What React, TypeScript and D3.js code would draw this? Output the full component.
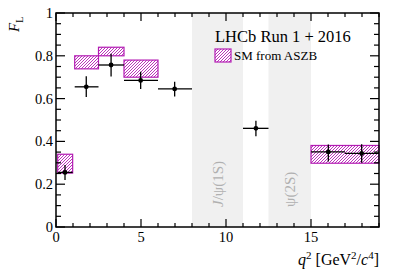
import { useEffect, useRef } from "react";
import * as d3 from "d3";

// measured bins (q2 in GeV^2/c^4)
const binLo = [0.1, 1.1, 2.5, 4, 6, 11, 15, 17];
const binHi = [0.98, 2.5, 4, 6, 8, 12.5, 17, 19];
const qMean = [0.53, 1.78, 3.24, 4.98, 6.98, 11.76, 16.02, 17.98];
const flVal = [0.255, 0.655, 0.757, 0.685, 0.645, 0.461, 0.351, 0.344];
const flErrUp = [0.035, 0.05, 0.053, 0.04, 0.034, 0.036, 0.035, 0.043];
const flErrDn = [0.035, 0.048, 0.054, 0.04, 0.035, 0.037, 0.045, 0.044];

// SM prediction boxes (ASZB)
const smLo = [0.1, 1.1, 2.5, 4, 15];
const smHi = [0.98, 2.5, 4, 6, 19];
const smMin = [0.252, 0.739, 0.8, 0.7, 0.298];
const smMax = [0.34, 0.8, 0.84, 0.78, 0.381];

// charmonium vetoes
const vetoLo = [8, 12.5];
const vetoHi = [11, 15];
const vetoLabel = [["J", "/\u03c8(1S)"], ["", "\u03c8(2S)"]];

const xTicks = [0, 5, 10, 15];
const yTicks = [0, 0.2, 0.4, 0.6, 0.8, 1];

export default function App() {
  const ref = useRef<SVGSVGElement>(null);

  useEffect(() => {
    document.body.style.margin = "0";
    const el = ref.current;
    if (!el) return;
    const W = 399, H = 271;
    const M = { top: 13, right: 20, bottom: 44, left: 56 };
    const font = "'Liberation Serif', 'Times New Roman', serif";
    const mag = "#b31cb3";

    d3.select(el).selectAll("*").remove();
    const svg = d3.select(el).attr("width", W).attr("height", H).style("display", "block");

    const x = d3.scaleLinear().domain([0, 19]).range([M.left, W - M.right]);
    const y = d3.scaleLinear().domain([0, 1]).range([H - M.bottom, M.top]);

    // "////" hatch
    const s = 3;
    const pat = svg.append("defs").append("pattern")
      .attr("id", "hatch").attr("patternUnits", "userSpaceOnUse")
      .attr("width", s).attr("height", s);
    pat.append("rect").attr("width", s).attr("height", s).attr("fill", "#fff");
    pat.append("path")
      .attr("d", `M-1,1 L1,-1 M0,${s} L${s},0 M${s - 1},${s + 1} L${s + 1},${s - 1}`)
      .attr("stroke", mag).attr("stroke-width", 0.9);

    // veto bands
    svg.selectAll(".veto").data(vetoLo).join("rect")
      .attr("x", (d) => x(d)).attr("width", (d, i) => x(vetoHi[i]) - x(d))
      .attr("y", y(1)).attr("height", y(0) - y(1))
      .attr("fill", "#f0f0f0");
    vetoLabel.forEach((lb, i) => {
      const t = svg.append("text")
        .attr("transform", `translate(${x((vetoLo[i] + vetoHi[i]) / 2) + 5},207) rotate(-90)`)
        .attr("fill", "#b0b0b0").style("font-family", font).style("font-size", "15px");
      if (lb[0]) t.append("tspan").style("font-style", "italic").text(lb[0]);
      t.append("tspan").text(lb[1]);
    });

    // SM boxes
    svg.selectAll(".sm").data(smLo).join("rect")
      .attr("x", (d) => x(d)).attr("width", (d, i) => x(smHi[i]) - x(d))
      .attr("y", (d, i) => y(smMax[i])).attr("height", (d, i) => y(smMin[i]) - y(smMax[i]))
      .attr("fill", "url(#hatch)").attr("stroke", mag).attr("stroke-width", 1.2);

    // data points
    const g = svg.append("g").attr("stroke", "#000").attr("stroke-width", 1.3);
    flVal.forEach((v, i) => {
      g.append("line").attr("x1", x(binLo[i])).attr("x2", x(binHi[i]))
        .attr("y1", y(v)).attr("y2", y(v));
      g.append("line").attr("x1", x(qMean[i])).attr("x2", x(qMean[i]))
        .attr("y1", y(v + flErrUp[i])).attr("y2", y(v - flErrDn[i]));
      g.append("circle").attr("cx", x(qMean[i])).attr("cy", y(v)).attr("r", 2.4)
        .attr("fill", "#000").attr("stroke", "none");
    });

    // frame
    svg.append("rect").attr("x", x(0)).attr("y", y(1))
      .attr("width", x(19) - x(0)).attr("height", y(0) - y(1))
      .attr("fill", "none").attr("stroke", "#000").attr("stroke-width", 1.5);

    const ax = svg.append("g").attr("stroke", "#000").attr("stroke-width", 1.2);
    d3.range(0, 20, 1).forEach((t) => {
      const len = t % 5 === 0 ? 8 : 4;
      ax.append("line").attr("x1", x(t)).attr("x2", x(t)).attr("y1", y(0)).attr("y2", y(0) - len);
      ax.append("line").attr("x1", x(t)).attr("x2", x(t)).attr("y1", y(1)).attr("y2", y(1) + len);
    });
    d3.range(0, 1.0001, 0.05).forEach((t) => {
      const len = Math.round(t * 100) % 20 === 0 ? 9 : 5;
      ax.append("line").attr("x1", x(0)).attr("x2", x(0) + len).attr("y1", y(t)).attr("y2", y(t));
      ax.append("line").attr("x1", x(19)).attr("x2", x(19) - len).attr("y1", y(t)).attr("y2", y(t));
    });

    const lab = svg.append("g").style("font-family", font).style("font-size", "14.5px").attr("fill", "#000");
    lab.selectAll(".xt").data(xTicks).join("text")
      .attr("x", (d) => x(d)).attr("y", y(0) + 15).attr("text-anchor", "middle")
      .text((d) => d);
    lab.selectAll(".yt").data(yTicks).join("text")
      .attr("x", x(0) - 3).attr("y", (d) => y(d) + 5).attr("text-anchor", "end")
      .text((d) => (d === 0 || d === 1 ? String(d) : d.toFixed(1)));

    // axis titles
    const xt = lab.append("text").attr("x", x(19)).attr("y", 265).attr("text-anchor", "end")
      .style("font-size", "16px");
    xt.append("tspan").style("font-style", "italic").text("q");
    xt.append("tspan").attr("dy", -6).style("font-size", "11px").text("2");
    xt.append("tspan").attr("dy", 6).text(" [GeV");
    xt.append("tspan").attr("dy", -6).style("font-size", "11px").text("2");
    xt.append("tspan").attr("dy", 6).text("/");
    xt.append("tspan").style("font-style", "italic").text("c");
    xt.append("tspan").attr("dy", -6).style("font-size", "11px").text("4");
    xt.append("tspan").attr("dy", 6).text("]");

    const yt = lab.append("text").attr("transform", "translate(19,32) rotate(-90)")
      .style("font-size", "15px");
    yt.append("tspan").style("font-style", "italic").text("F");
    yt.append("tspan").attr("dy", 4).style("font-size", "10px").text("L");

    // legend
    lab.append("text").attr("x", 215).attr("y", 42).style("font-size", "16.5px").text("LHCb Run 1 + 2016");
    svg.append("rect").attr("x", 215).attr("y", 49).attr("width", 16).attr("height", 13)
      .attr("fill", "url(#hatch)").attr("stroke", mag).attr("stroke-width", 1.2);
    lab.append("text").attr("x", 234).attr("y", 60).style("font-size", "13px").text("SM from ASZB");
  }, []);

  return <svg ref={ref} />;
}
